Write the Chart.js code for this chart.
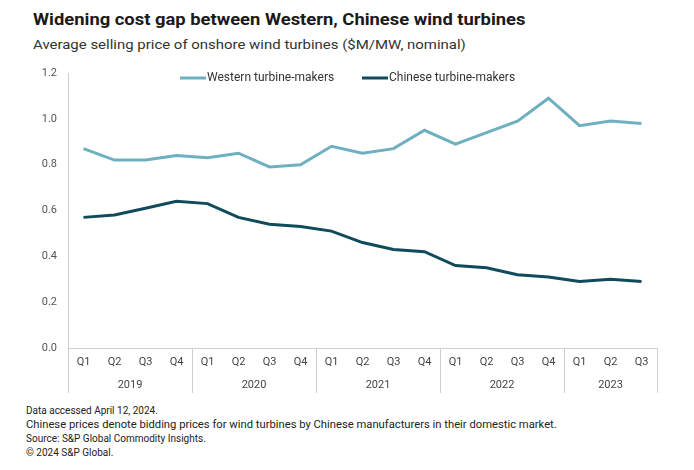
<!DOCTYPE html>
<html>
<head>
<meta charset="utf-8">
<script src="https://cdn.jsdelivr.net/npm/chart.js@4"></script>
<style>
  body { margin: 0; background: #fff; width: 694px; height: 470px; position: relative; overflow: hidden; font-family: Roboto, "Liberation Sans", sans-serif; }
  .txt { position: absolute; white-space: nowrap; transform-origin: left top; }
  #title { left: 33px; top: 9px; font-size: 17px; font-weight: bold; color: #1a1a1a; }
  #subtitle { left: 33px; top: 36px; font-size: 13.5px; color: #333; }
  .foot { left: 26px; font-size: 10px; color: #222; }
  #chartBox { position: absolute; left: 0; top: 0; width: 694px; height: 470px; }
</style>
</head>
<body>
<div id="title" class="txt">Widening cost gap between Western, Chinese wind turbines</div>
<div id="subtitle" class="txt">Average selling price of onshore wind turbines ($M/MW, nominal)</div>
<div class="txt foot" style="top:405px">Data accessed April 12, 2024.</div>
<div class="txt foot" id="foot2" style="top:419px">Chinese prices denote bidding prices for wind turbines by Chinese manufacturers in their domestic market.</div>
<div class="txt foot" style="top:433px">Source: S&amp;P Global Commodity Insights.</div>
<div class="txt foot" style="top:447px">© 2024 S&amp;P Global.</div>
<div id="chartBox"><canvas id="lineChart" width="694" height="470"></canvas></div>
<script>
// Chart data
var quarters = ['Q1', 'Q2', 'Q3', 'Q4', 'Q1', 'Q2', 'Q3', 'Q4', 'Q1', 'Q2', 'Q3', 'Q4', 'Q1', 'Q2', 'Q3', 'Q4', 'Q1', 'Q2', 'Q3'];
var years = ['2019', '2020', '2021', '2022', '2023'];
var quartersPerYear = [4, 4, 4, 4, 3];
var westernPrices = [0.87, 0.82, 0.82, 0.84, 0.83, 0.85, 0.79, 0.80, 0.88, 0.85, 0.87, 0.95, 0.89, 0.94, 0.99, 1.09, 0.97, 0.99, 0.98];
var chinesePrices = [0.57, 0.58, 0.61, 0.64, 0.63, 0.57, 0.54, 0.53, 0.51, 0.46, 0.43, 0.42, 0.36, 0.35, 0.32, 0.31, 0.29, 0.30, 0.29];
var yTicks = [0.0, 0.2, 0.4, 0.6, 0.8, 1.0, 1.2];

var westernColor = '#6fb0c0';
var chineseColor = '#0f4b5a';
var axisColor = '#cfcfcf';

// Stretch text blocks to the width they take in the reference
function fitWidth(id, target) {
    var el = document.getElementById(id);
    el.style.transform = 'scaleX(' + (target / el.offsetWidth) + ')';
}
fitWidth('title', 492);
fitWidth('subtitle', 433);
fitWidth('foot2', 531);

// Year labels under the quarters plus the separator lines
var yearGroups = {
    id: 'yearGroups',
    afterDraw: function (chart) {
        var ctx = chart.ctx;
        var x = chart.scales.x;
        var bottom = chart.chartArea.bottom;
        var half = (x.getPixelForValue(1) - x.getPixelForValue(0)) / 2;
        ctx.save();
        ctx.strokeStyle = axisColor;
        ctx.lineWidth = 1;
        ctx.fillStyle = '#444';
        ctx.font = '11px Roboto, "Liberation Sans", sans-serif';
        ctx.textAlign = 'center';
        ctx.textBaseline = 'middle';
        var start = 0;
        for (var i = 0; i < years.length; i++) {
            var end = start + quartersPerYear[i] - 1;
            var left = x.getPixelForValue(start) - half;
            var right = x.getPixelForValue(end) + half;
            ctx.beginPath();
            ctx.moveTo(Math.round(left) + 0.5, bottom);
            ctx.lineTo(Math.round(left) + 0.5, bottom + 45);
            if (i === years.length - 1) {
                ctx.moveTo(Math.round(right) + 0.5, bottom);
                ctx.lineTo(Math.round(right) + 0.5, bottom + 45);
            }
            ctx.stroke();
            ctx.fillText(years[i], (left + right) / 2, bottom + 37);
            start = end + 1;
        }
        ctx.restore();
    }
};

// Legend drawn inside the top of the plot
var innerLegend = {
    id: 'innerLegend',
    afterDraw: function (chart) {
        var ctx = chart.ctx;
        var y = chart.chartArea.top + 5;
        var items = [
            { x: 180, label: chart.data.datasets[0].label, color: westernColor },
            { x: 362, label: chart.data.datasets[1].label, color: chineseColor }
        ];
        ctx.save();
        ctx.font = '12px Roboto, "Liberation Sans", sans-serif';
        ctx.textBaseline = 'middle';
        ctx.textAlign = 'left';
        items.forEach(function (item) {
            ctx.strokeStyle = item.color;
            ctx.lineWidth = 3;
            ctx.beginPath();
            ctx.moveTo(item.x, y);
            ctx.lineTo(item.x + 26, y);
            ctx.stroke();
            ctx.fillStyle = '#333';
            ctx.fillText(item.label, item.x + 27, y);
        });
        ctx.restore();
    }
};

var ctx = document.getElementById('lineChart').getContext('2d');
var lineChart = new Chart(ctx, {
    type: 'line',
    data: {
        labels: quarters,
        datasets: [{
            label: 'Western turbine-makers',
            data: westernPrices,
            borderColor: westernColor,
            borderWidth: 3,
            pointRadius: 0,
            tension: 0
        }, {
            label: 'Chinese turbine-makers',
            data: chinesePrices,
            borderColor: chineseColor,
            borderWidth: 3,
            pointRadius: 0,
            tension: 0
        }]
    },
    options: {
        responsive: false,
        animation: false,
        layout: { padding: { top: 73, right: 37, left: 0, bottom: 0 } },
        plugins: {
            legend: { display: false },
            tooltip: { enabled: false }
        },
        scales: {
            y: {
                min: 0,
                max: 1.2,
                afterFit: function (scale) { scale.width = 68; },
                afterBuildTicks: function (scale) {
                    scale.ticks = yTicks.map(function (v) { return { value: v }; });
                },
                grid: { display: false, drawTicks: false },
                border: { color: axisColor },
                ticks: {
                    padding: 11,
                    color: '#555',
                    font: { size: 11, family: 'Roboto, "Liberation Sans", sans-serif' },
                    callback: function (v) { return v.toFixed(1); }
                }
            },
            x: {
                offset: true,
                afterFit: function (scale) { scale.height = 122; },
                grid: { display: false, drawTicks: false },
                border: { color: axisColor },
                ticks: {
                    padding: 8,
                    color: '#444',
                    maxRotation: 0,
                    autoSkip: false,
                    font: { size: 11, family: 'Roboto, "Liberation Sans", sans-serif' }
                }
            }
        }
    },
    plugins: [yearGroups, innerLegend]
});
</script>
</body>
</html>
